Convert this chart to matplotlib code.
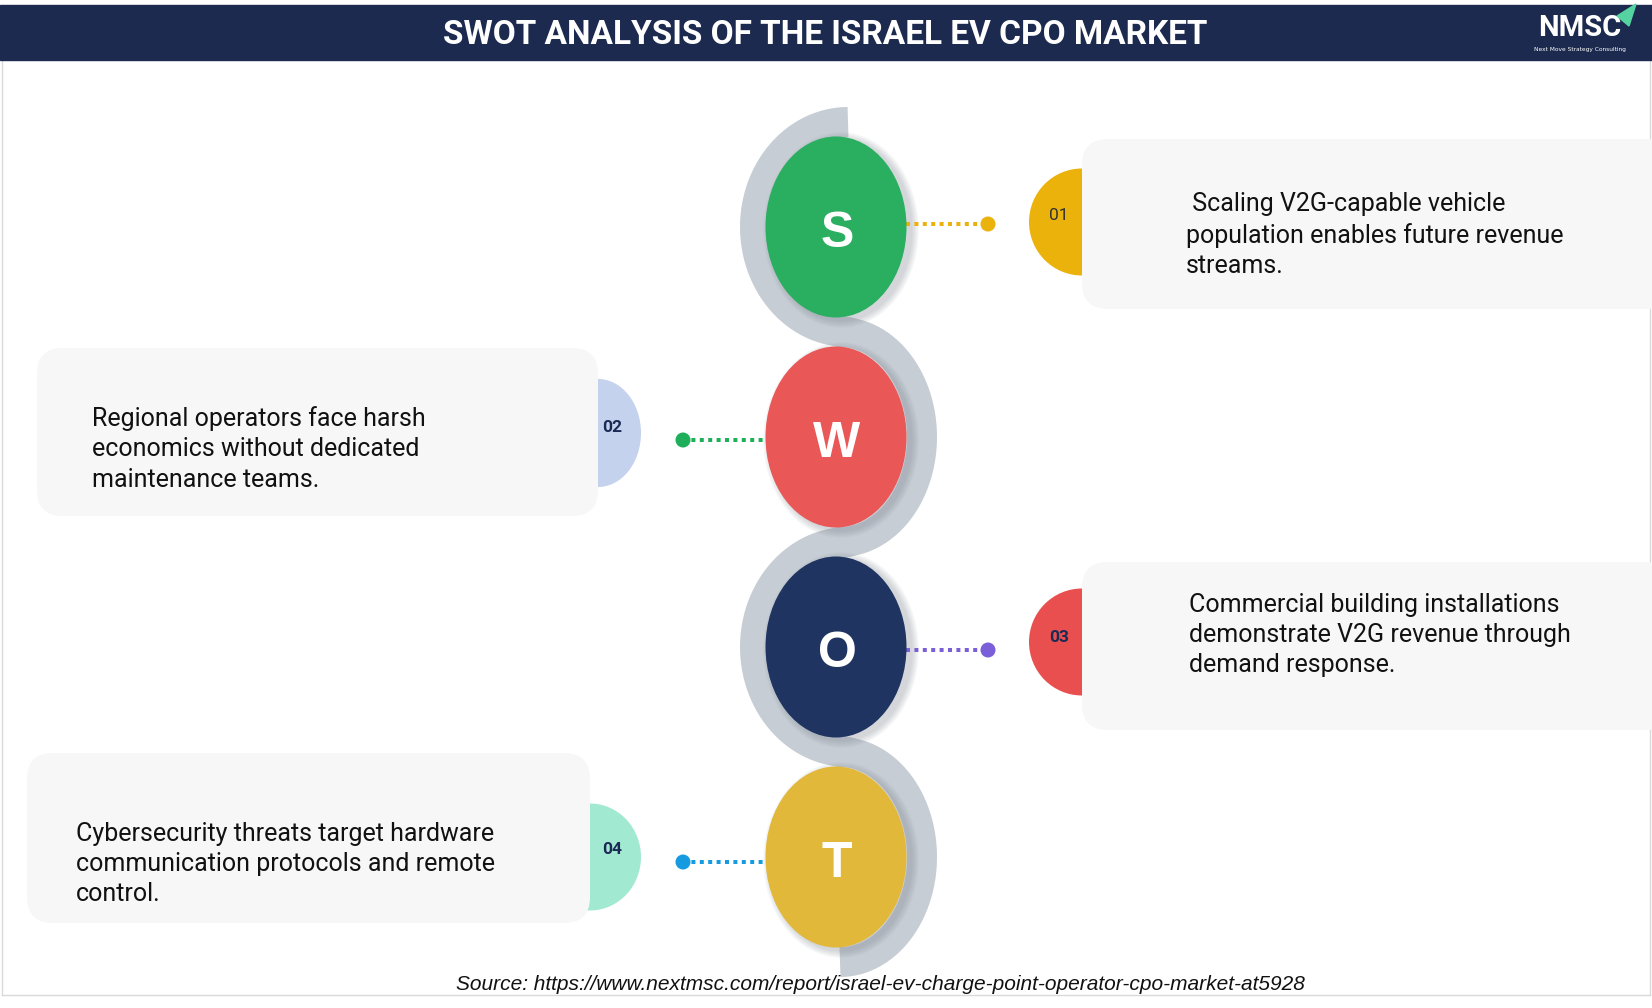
import numpy as np
import matplotlib
matplotlib.use("Agg")
import matplotlib.pyplot as plt
from matplotlib.patches import Ellipse, FancyBboxPatch, Rectangle, Polygon, Circle

# ---------------- data ----------------
title = "SWOT ANALYSIS OF THE ISRAEL EV CPO MARKET"
letters = ["S", "W", "O", "T"]
numbers = ["01", "02", "03", "04"]
texts = [
    " Scaling V2G-capable vehicle\npopulation enables future revenue\nstreams.",
    "Regional operators face harsh\neconomics without dedicated\nmaintenance teams.",
    "Commercial building installations\ndemonstrate V2G revenue through\ndemand response.",
    "Cybersecurity threats target hardware\ncommunication protocols and remote\ncontrol.",
]
source = "Source: https://www.nextmsc.com/report/israel-ev-charge-point-operator-cpo-market-at5928"
logo_text = "NMSC"
logo_sub = "Next Move Strategy Consulting"

# ---------------- styles ----------------
letter_colors = ["#2aae60", "#e95757", "#1f3461", "#e2b83b"]
tab_colors = ["#ecb20c", "#c4d2ee", "#e94f4f", "#a2e9d1"]
dot_colors = ["#ecb20c", "#1fae5a", "#7b5fd8", "#169be0"]
num_colors = ["#333333", "#1b2a55", "#1b2a55", "#1b2a55"]
num_weights = ["normal", "bold", "bold", "bold"]
sides = ["right", "left", "right", "left"]
band_color = "#c6cdd4"
box_color = "#f7f7f7"
header_color = "#1b2a4e"

# ---------------- layout (pixel units) ----------------
W, H = 1652, 1008
CX = 836
CY0, DY = 227, 210
ELL_W, ELL_H = 141, 181
BAND_B = 105
BAND_T = 30
boxes = [(1082, 139, 590, 170), (37, 348, 561, 168), (1082, 562, 590, 168), (27, 753, 563, 170)]
tabs = [(1082, 222, 106, 107), (598, 433, 86, 108), (1082, 642, 106, 107), (590, 857, 102, 107)]
num_pos = [(1059, 216), (612, 428), (1059, 637), (612, 850)]
text_pos = [(1186, 235), (92, 449), (1189, 635), (76, 864)]
conn_y = [224, 440, 650, 862]
DOT_R = 7.5

PX = 0.72  # points per pixel at dpi 100

fig = plt.figure(figsize=(W / 100, H / 100), dpi=100)
ax = fig.add_axes([0, 0, 1, 1])
ax.set_xlim(0, W)
ax.set_ylim(H, 0)
ax.axis("off")

# border
ax.plot([2, 2], [60, 995], color="#d9d9d9", lw=1.0, zorder=0)
ax.plot([1650, 1650], [60, 995], color="#d9d9d9", lw=1.0, zorder=0)
ax.plot([2, 1650], [995, 995], color="#d9d9d9", lw=1.0, zorder=0)

# header
ax.add_patch(Rectangle((0, 5), W, 55, color=header_color, zorder=1))
ax.text(825, 35, title, color="white", fontsize=24, fontweight="bold",
        family="Roboto", ha="center", va="center", zorder=2)
ax.text(1580, 28, logo_text, color="white", fontsize=21, fontweight="bold",
        family="Roboto", ha="center", va="center", zorder=2)
ax.text(1580, 50, logo_sub, color="white", fontsize=4.2,
        family="DejaVu Sans", ha="center", va="center", zorder=2)
ax.add_patch(Polygon([(1617, 16), (1636, 4), (1629, 26)], closed=True,
                     color="#55d3a0", zorder=3))

# serpentine band
xs, ys = [], []
t = np.linspace(-np.pi / 2, np.pi / 2, 120)
for i in range(len(letters)):
    cy = CY0 + DY * i
    if i % 2 == 0:
        cx, a, s = 848, 93, -1
    else:
        cx, a, s = 840, 82, 1
    xs.extend(cx + s * a * np.cos(t))
    ys.extend(cy + BAND_B * np.sin(t))
ax.plot(xs, ys, color=band_color, lw=BAND_T * PX, solid_capstyle="butt",
        solid_joinstyle="round", zorder=3)

for i, (L, txt) in enumerate(zip(letters, texts)):
    cy = CY0 + DY * i
    # shadow
    for k in range(6):
        ax.add_patch(Ellipse((CX + 5, cy + 3), ELL_W + 2 + k * 2.5, ELL_H + 2 + k * 2.5,
                             color="#7a828c", alpha=0.06, lw=0, zorder=4))
    ax.add_patch(Ellipse((CX, cy), ELL_W, ELL_H, color=letter_colors[i], lw=0, zorder=5))
    ax.text(CX + 1, cy + 7, L, color="white", fontsize=36, fontweight="bold",
            family="Liberation Sans", ha="center", va="center", zorder=6)

    # connector
    yc = conn_y[i]
    if sides[i] == "right":
        x0, x1 = CX + ELL_W / 2 - 1, 988
    else:
        x0, x1 = 683, CX - ELL_W / 2 + 1
    ax.plot([x0, x1], [yc, yc], color=dot_colors[i], lw=4 * PX,
            linestyle=(0, (1.0, 1.1)), zorder=4)
    dx = 988 if sides[i] == "right" else 683
    ax.add_patch(Circle((dx, yc), DOT_R, color=dot_colors[i], lw=0, zorder=5))

    # tab + box
    tx, ty, tw, th = tabs[i]
    ax.add_patch(Ellipse((tx, ty), tw, th, color=tab_colors[i], lw=0, zorder=2))
    bx, by, bw, bh = boxes[i]
    ax.add_patch(FancyBboxPatch((bx, by), bw, bh,
                                boxstyle="round,pad=0,rounding_size=26",
                                fc=box_color, ec="none", zorder=3))
    nx, ny = num_pos[i]
    ax.text(nx, ny, numbers[i], color=num_colors[i], fontsize=12.5,
            fontweight=num_weights[i], family="Roboto", ha="center", va="center", zorder=4)
    px_, py_ = text_pos[i]
    ax.text(px_, py_, txt, color="#111111", fontsize=18, family="Roboto",
            ha="left", va="center", linespacing=1.33, zorder=4)

ax.text(880, 984, source, color="#111111", fontsize=15, style="italic",
        family="Liberation Sans", ha="center", va="center", zorder=6)

fig.savefig("out.png", dpi=100, facecolor="white")
